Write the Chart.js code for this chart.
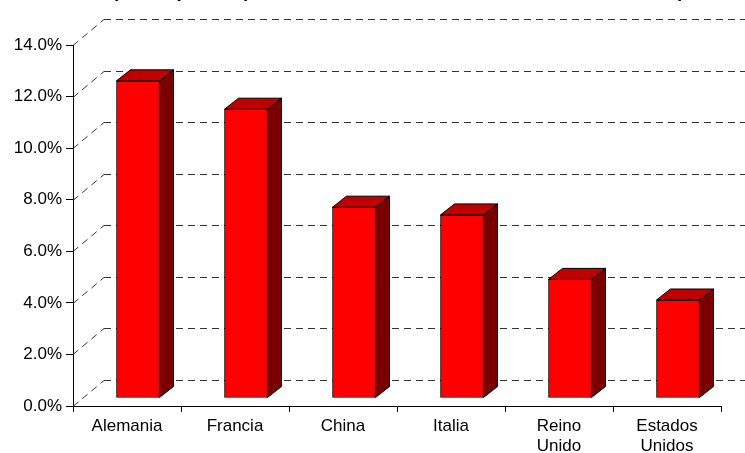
<!DOCTYPE html>
<html>
<head>
<meta charset="utf-8">
<script src="https://cdn.jsdelivr.net/npm/chart.js@4.4.1/dist/chart.umd.min.js"></script>
<style>
  html, body { margin: 0; padding: 0; background: #fff; }
  #wrap { width: 745px; height: 453px; position: relative; }
</style>
</head>
<body>
<div id="wrap"><canvas id="chart"></canvas></div>
<script>
const titleText = "(Participación porcentual en el total mundial, años 2000 a 2008)";
const categories = ["Alemania", "Francia", "China", "Italia", ["Reino", "Unido"], ["Estados", "Unidos"]];
const shares = [12.3, 11.2, 7.4, 7.1, 4.6, 3.8];
const yMin = 0, yMax = 14, yStep = 2;

const FONT = "'Liberation Sans', Arial, sans-serif";

// fake 3D: back wall offset, bar offset and bar depth
const wall = { dx: 31, dy: -26 };
const front = { dx: 11, dy: -8 };
const depth = { dx: 14, dy: -11 };

const threeD = {
    id: "threeD",
    beforeDatasetsDraw(chart) {
        const { ctx, chartArea, scales } = chart;
        const y = scales.y;
        ctx.save();
        ctx.strokeStyle = "#333";
        ctx.lineWidth = 1;
        ctx.setLineDash([7, 5]);
        y.ticks.forEach((t) => {
            const py = Math.round(y.getPixelForValue(t.value)) + 0.5;
            ctx.beginPath();
            ctx.moveTo(chartArea.left, py);
            ctx.lineTo(chartArea.left + wall.dx, py + wall.dy);
            ctx.stroke();
            ctx.beginPath();
            ctx.moveTo(chartArea.left + wall.dx, py + wall.dy);
            ctx.lineTo(chart.width, py + wall.dy);
            ctx.stroke();
        });
        ctx.restore();
        // front faces are drawn by chart.js, shifted into the depth
        ctx.save();
        ctx.translate(front.dx, front.dy);
    },
    afterDatasetsDraw(chart) {
        const { ctx } = chart;
        ctx.restore();
        ctx.save();
        ctx.strokeStyle = "#000";
        ctx.lineWidth = 1;
        ctx.lineJoin = "round";
        chart.getDatasetMeta(0).data.forEach((bar) => {
            const l = bar.x - bar.width / 2 + front.dx;
            const r = bar.x + bar.width / 2 + front.dx;
            const t = bar.y + front.dy;
            const b = bar.base + front.dy;
            // side
            ctx.beginPath();
            ctx.moveTo(r, t);
            ctx.lineTo(r + depth.dx, t + depth.dy);
            ctx.lineTo(r + depth.dx, b + depth.dy);
            ctx.lineTo(r, b);
            ctx.closePath();
            ctx.fillStyle = "#7a0000";
            ctx.fill();
            ctx.stroke();
            // top
            ctx.beginPath();
            ctx.moveTo(l, t);
            ctx.lineTo(l + depth.dx, t + depth.dy);
            ctx.lineTo(r + depth.dx, t + depth.dy);
            ctx.lineTo(r, t);
            ctx.closePath();
            ctx.fillStyle = "#c00000";
            ctx.fill();
            ctx.stroke();
        });
        ctx.restore();
    },
    afterDraw(chart) {
        // title sits mostly above the visible frame
        const { ctx } = chart;
        ctx.save();
        ctx.font = "bold 19px " + FONT;
        ctx.fillStyle = "#000";
        ctx.textAlign = "left";
        ctx.textBaseline = "alphabetic";
        ctx.fillText(titleText, 112, -3);
        ctx.restore();
    },
};

new Chart(document.getElementById("chart"), {
    type: "bar",
    data: {
        labels: categories,
        datasets: [
            {
                data: shares,
                backgroundColor: "#ff0000",
                borderColor: "#000",
                borderWidth: 1,
                borderSkipped: false,
                barThickness: 43,
            },
        ],
    },
    options: {
        responsive: true,
        maintainAspectRatio: false,
        animation: false,
        layout: { padding: { top: 45, right: 24, left: 0, bottom: 0 } },
        plugins: {
            legend: { display: false },
            title: { display: false },
            tooltip: { enabled: false },
        },
        scales: {
            x: {
                afterFit: (s) => { s.height = 47; },
                grid: { drawOnChartArea: false, drawTicks: true, tickLength: 6, color: "#000", offset: true },
                border: { display: true, color: "#000", width: 1 },
                ticks: { color: "#000", font: { family: FONT, size: 17, lineHeight: 1.15 }, padding: 5, maxRotation: 0, autoSkip: false },
            },
            y: {
                min: yMin,
                max: yMax,
                afterFit: (s) => { s.width = 73; },
                grid: { drawOnChartArea: false, drawTicks: true, tickLength: 7, color: "#000" },
                border: { display: true, color: "#000", width: 1 },
                ticks: {
                    stepSize: yStep,
                    color: "#000",
                    padding: 4,
                    font: { family: FONT, size: 17 },
                    callback: (v) => v.toFixed(1) + "%",
                },
            },
        },
    },
    plugins: [threeD],
});
</script>
</body>
</html>
